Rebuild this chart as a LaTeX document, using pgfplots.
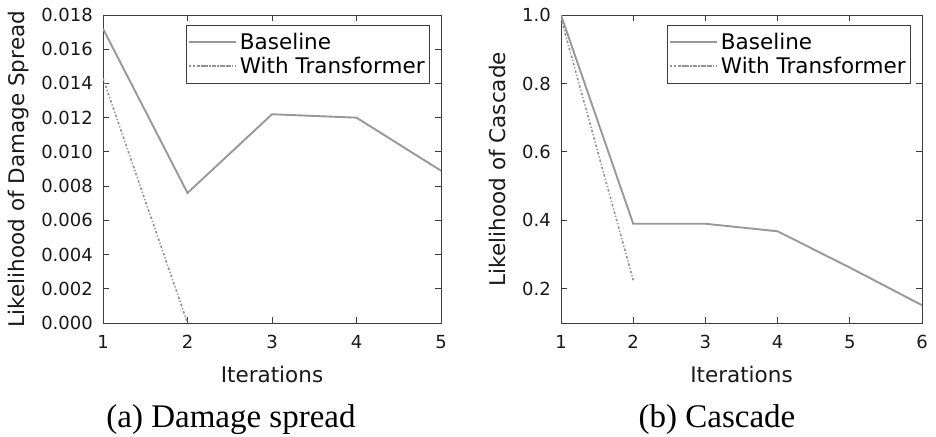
\documentclass[border=0pt]{standalone}
\usepackage{pgfplots}
\pgfplotsset{compat=1.18}
\usepackage{fontspec}
\setmainfont{DejaVu Sans}
\newfontfamily\capfont{Liberation Serif}
\definecolor{basegray}{RGB}{152,152,152}
\definecolor{trgray}{RGB}{145,145,145}
\definecolor{framegray}{RGB}{60,60,60}
\pgfplotsset{
  myaxis/.style={
    scale only axis,
    anchor=south west,
    height=308bp,
    axis line style={framegray, line width=0.8bp},
    tick style={framegray, line width=0.8bp},
    tick align=inside,
    major tick length=6bp,
    /pgf/number format/assume math mode=true,
    tick label style={font=\fontsize{18bp}{20bp}\selectfont, text=black!90},
    xticklabel style={anchor=base, inner sep=0pt, yshift=-25.3bp},
    yticklabel style={anchor=east, inner sep=0pt, xshift=-10bp},
    label style={font=\fontsize{21.5bp}{24bp}\selectfont, text=black!90},
    xlabel style={at={(axis description cs:0.5,-0.1916)}, anchor=base, inner sep=0pt},
    legend style={at={(rel axis cs:1,1)}, anchor=north east, xshift=-11bp, yshift=-10bp,
      draw=framegray, line width=0.8bp, font=\fontsize{21.5bp}{24bp}\selectfont,
      inner xsep=2bp, inner ysep=5bp, row sep=0bp,
      nodes={inner sep=3bp}},
    legend cell align=left,
    legend image code/.code={\path (0bp,0bp) -- (47bp,0bp); \draw[#1] (9bp,0bp) -- (42bp,0bp);},
  },
  baseline/.style={basegray, line width=1.9bp},
  transf/.style={trgray, line width=1.6bp, dash pattern=on 2.5bp off 2bp on 1.2bp off 2bp},
}
\begin{document}
\begin{tikzpicture}
\path[use as bounding box] (0,0) rectangle (936bp,437bp);
\begin{axis}[myaxis,
  at={(103bp,114bp)}, width=338bp,
  xmin=1, xmax=5, ymin=0, ymax=0.018,
  xtick={1,2,3,4,5},
  ytick={0,0.002,0.004,0.006,0.008,0.010,0.012,0.014,0.016,0.018},
  yticklabel style={/pgf/number format/.cd, fixed, fixed zerofill, precision=3},
  scaled y ticks=false,
  xlabel={Iterations},
  ylabel={Likelihood of Damage Spread},
  ylabel style={at={(axis description cs:-0.2337,0.5)}, anchor=base, inner sep=0pt},
]
\addplot[baseline] coordinates {(1,0.0172) (2,0.0076) (3,0.0122) (4,0.0120) (5,0.0089)};
\addlegendentry{Baseline}
\addplot[transf] coordinates {(1,0.0143) (2,0.0)};
\addlegendentry{With Transformer}
\end{axis}
\begin{axis}[myaxis,
  at={(561bp,114bp)}, width=361bp,
  xmin=1, xmax=6, ymin=0.1, ymax=1.0,
  xtick={1,2,3,4,5,6},
  ytick={0.2,0.4,0.6,0.8,1.0},
  yticklabel style={/pgf/number format/.cd, fixed, fixed zerofill, precision=1},
  xlabel={Iterations},
  ylabel={Likelihood of Cascade},
  ylabel style={at={(axis description cs:-0.1551,0.5)}, anchor=base, inner sep=0pt},
]
\addplot[baseline] coordinates {(1,1.0) (2,0.39) (3,0.39) (4,0.368) (5,0.262) (6,0.152)};
\addlegendentry{Baseline}
\addplot[transf] coordinates {(1,0.99) (2,0.225)};
\addlegendentry{With Transformer}
\end{axis}
\node[anchor=base, inner sep=0pt, font=\capfont\fontsize{33bp}{36bp}\selectfont] at (231bp,10bp) {(a) Damage spread};
\node[anchor=base, inner sep=0pt, font=\capfont\fontsize{33bp}{36bp}\selectfont] at (717bp,10bp) {(b) Cascade};
\end{tikzpicture}
\end{document}
